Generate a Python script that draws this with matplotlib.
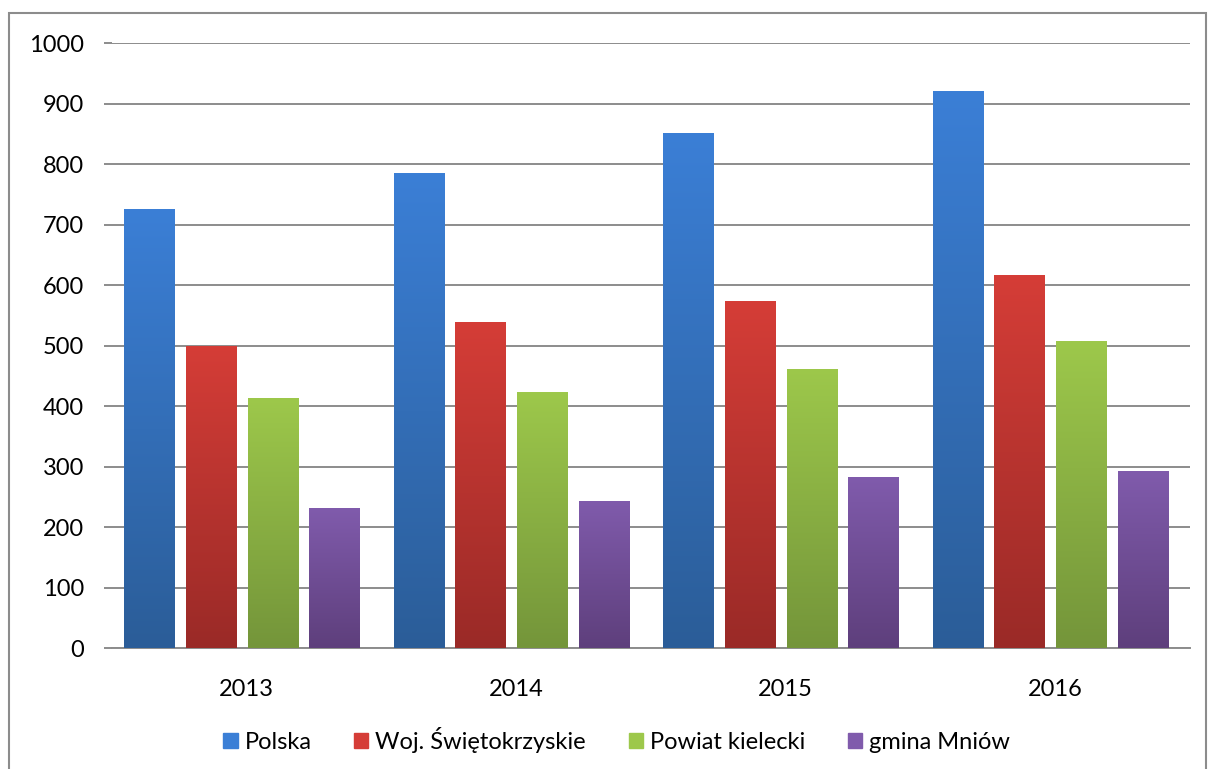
import numpy as np
import matplotlib.pyplot as plt
from matplotlib.colors import LinearSegmentedColormap
from matplotlib.patches import Rectangle

plt.rcParams['font.family'] = ['Lato', 'DejaVu Sans']

years = ['2013', '2014', '2015', '2016']
series = ['Polska', 'Woj. Świętokrzyskie', 'Powiat kielecki', 'gmina Mniów']
polska = [725, 785, 852, 920]
woj = [500, 539, 573, 616]
powiat = [413, 423, 462, 507]
gmina = [231, 243, 282, 292]

# (top colour, bottom colour) for the gradients
colors = [('#3b7fd6', '#2b5d98'),
          ('#d53d37', '#9a2a27'),
          ('#9dc84b', '#74953a'),
          ('#805bac', '#5e3f7c')]

fig = plt.figure(figsize=(12.09, 7.69), dpi=100)
ax = fig.add_axes([0.0926, 0.1573, 0.8917, 0.7867])

x = np.arange(len(years))
width = 0.186
step = 0.229
shift = -0.018
values = [polska, woj, powiat, gmina]
grad = np.linspace(0, 1, 256).reshape(-1, 1)

for i, (name, vals) in enumerate(zip(series, values)):
    offset = (i - 1.5) * step + shift
    cmap = LinearSegmentedColormap.from_list(name, [colors[i][1], colors[i][0]])
    bars = ax.bar(x + offset, vals, width, color=colors[i][0], label=name, zorder=3)
    for b in bars:
        x0, y0 = b.get_x(), b.get_y()
        w, h = b.get_width(), b.get_height()
        b.set_facecolor('none')
        im = ax.imshow(grad, cmap=cmap, extent=(x0, x0 + w, y0, y0 + h),
                       origin='lower', aspect='auto', zorder=3)
        im.set_clip_path(b)

ax.set_xlim(-0.5, len(years) - 0.5)
ax.set_ylim(0, 1000)
ax.set_yticks(range(0, 1001, 100))
ax.set_xticks(x)
ax.set_xticklabels(years)
ax.grid(axis='y', color='#8c8c8c', linewidth=1.4, zorder=0)
ax.set_axisbelow(True)
for s in ['top', 'right', 'left']:
    ax.spines[s].set_visible(False)
ax.spines['bottom'].set_color('#8c8c8c')
ax.spines['bottom'].set_linewidth(1.4)
ax.tick_params(axis='y', length=6, color='#8c8c8c', width=1.4, labelsize=17, pad=14)
ax.tick_params(axis='x', length=0, labelsize=17, pad=22)

handles = [Rectangle((0, 0), 1, 1, color=c[0]) for c in colors]
fig.legend(handles, series, loc='center', bbox_to_anchor=(0.51, 0.038), ncol=4,
           frameon=False, fontsize=17, handlelength=0.6, handleheight=0.6,
           handletextpad=0.3, columnspacing=1.8)

# outer chart border
fig.add_artist(Rectangle((9 / 1209, -0.01), 1197 / 1209, 1 - 13 / 769 + 0.01,
                         transform=fig.transFigure, fill=False,
                         edgecolor='#8c8c8c', linewidth=1.5))

fig.savefig('out.png', dpi=100)
